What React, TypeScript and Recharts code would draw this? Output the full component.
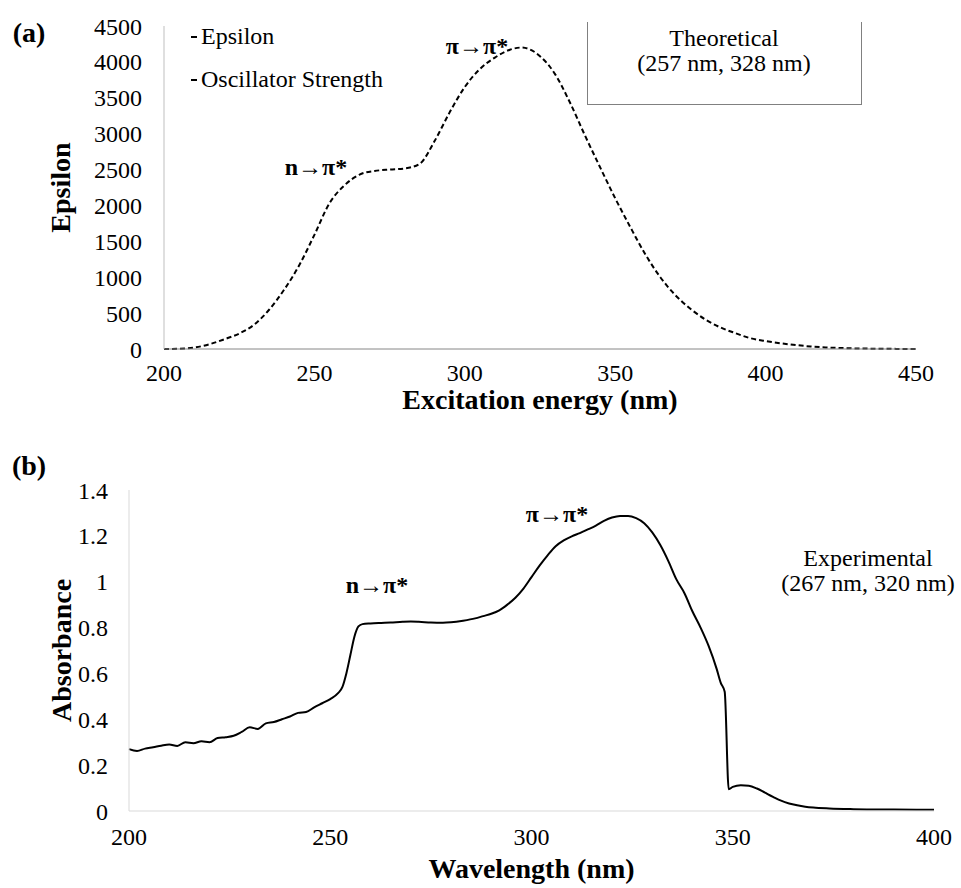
import { LineChart, Line, XAxis, YAxis, Legend } from 'recharts'

// (a) theoretical spectrum, epsilon vs excitation wavelength
const wavelengthsA = [
  200, 205, 210, 215, 220, 225, 230, 235, 240, 245, 250, 255, 260, 265, 270, 275, 280, 285, 290, 295, 300,
  305, 310, 315, 319, 320, 325, 330, 335, 340, 345, 350, 355, 360, 365, 370, 375, 380, 385, 390, 395, 400,
  405, 410, 415, 420, 425, 430, 435, 440, 445, 450,
]
const epsilon = [
  0, 4, 20, 65, 135, 215, 340, 550, 830, 1170, 1590, 2030, 2280, 2430, 2480, 2500, 2515, 2580, 2900, 3300, 3650,
  3900, 4060, 4170, 4200, 4195, 4080, 3830, 3430, 2970, 2530, 2100, 1700, 1320, 1000, 750, 560, 410, 300, 220, 150, 110,
  80, 55, 35, 22, 14, 8, 5, 3, 1, 0,
]
const xTicksA = [200, 250, 300, 350, 400, 450]
const yTicksA = [0, 500, 1000, 1500, 2000, 2500, 3000, 3500, 4000, 4500]
const legendItems = ['Epsilon', 'Oscillator Strength']

// (b) experimental spectrum, absorbance vs wavelength
const wavelengthsB = [
  200, 202, 204, 206, 208, 210, 212, 214, 216, 218, 220, 222, 224, 226, 228, 230, 232, 234, 236, 238, 240,
  242, 244, 246, 248, 250, 252, 253, 254, 255, 256, 257, 258, 260, 262, 265, 268, 270, 272, 275, 278, 280,
  283, 286, 288, 290, 292, 294, 296, 298, 300, 302, 304, 306, 308, 310, 312, 314, 316, 318, 320, 322, 324,
  326, 328, 330, 332, 334, 336, 338, 340, 342, 344, 346, 347, 348, 349, 350, 352, 354, 356, 358, 360, 362,
  364, 366, 368, 370, 374, 380, 390, 400,
]
const absorbance = [
  0.27, 0.262, 0.272, 0.278, 0.285, 0.29, 0.284, 0.3, 0.296, 0.304, 0.3, 0.318, 0.322, 0.328, 0.345, 0.365, 0.358, 0.382, 0.388, 0.4, 0.412,
  0.428, 0.432, 0.452, 0.47, 0.488, 0.515, 0.54, 0.6, 0.68, 0.76, 0.805, 0.815, 0.818, 0.82, 0.822, 0.825, 0.826, 0.825, 0.822, 0.821, 0.823,
  0.83, 0.84, 0.85, 0.86, 0.875, 0.9, 0.93, 0.97, 1.02, 1.07, 1.115, 1.155, 1.18, 1.198, 1.212, 1.228, 1.245, 1.265, 1.28, 1.287, 1.287,
  1.277, 1.255, 1.215, 1.16, 1.09, 1.01, 0.95, 0.87, 0.8, 0.72, 0.62, 0.56, 0.52, 0.095, 0.105, 0.112, 0.11, 0.098, 0.08, 0.062, 0.045,
  0.033, 0.025, 0.019, 0.015, 0.011, 0.008, 0.006, 0.005,
]
const xTicksB = [200, 250, 300, 350, 400]
const yTicksB = [0, 0.2, 0.4, 0.6, 0.8, 1, 1.2, 1.4]

const dataA = wavelengthsA.map((nm, i) => ({ nm, eps: epsilon[i] }))
const dataB = wavelengthsB.map((nm, i) => ({ nm, abs: absorbance[i] }))

const FONT = '"Liberation Serif", "Times New Roman", serif'
const tick = { fill: '#000', fontSize: 24, fontFamily: FONT }
const titleStyle = { fill: '#000', fontSize: 28, fontWeight: 700, fontFamily: FONT }

function Note({ x, y, bold, children }: { x: number; y: number; bold?: boolean; children: React.ReactNode }) {
  return (
    <div
      style={{
        position: 'absolute',
        left: x,
        top: y,
        transform: 'translate(-50%, -50%)',
        whiteSpace: 'nowrap',
        fontFamily: FONT,
        fontSize: 24,
        fontWeight: bold ? 700 : 400,
        lineHeight: 1.05,
        textAlign: 'center',
        color: '#000',
      }}
    >
      {children}
    </div>
  )
}

function LegendList() {
  return (
    <div style={{ fontFamily: FONT, fontSize: 24, color: '#000' }}>
      {legendItems.map((name) => (
        <div key={name} style={{ display: 'flex', alignItems: 'center', height: 43 }}>
          <span style={{ display: 'inline-block', width: 6, height: 2, background: '#000', marginRight: 4 }} />
          {name}
        </div>
      ))}
    </div>
  )
}

export default function App() {
  return (
    <div style={{ position: 'absolute', left: 0, top: 0, width: 961, height: 888, background: '#fff' }}>
      <div style={{ position: 'absolute', left: 0, top: 0 }}>
        <LineChart width={961} height={430} data={dataA} margin={{ top: 26, right: 45, left: 54, bottom: 21 }}>
          <XAxis
            dataKey="nm"
            type="number"
            domain={[200, 450]}
            ticks={xTicksA}
            tickLine={false}
            tickMargin={9}
            tick={tick}
            stroke="#868686"
            height={60}
            label={{ value: 'Excitation energy (nm)', position: 'insideBottom', offset: 0, style: titleStyle }}
          />
          <YAxis
            type="number"
            domain={[0, 4500]}
            ticks={yTicksA}
            tickLine={false}
            tickMargin={16}
            tick={tick}
            stroke="#bfbfbf"
            width={110}
            label={{
              value: 'Epsilon',
              angle: -90,
              position: 'insideLeft',
              offset: 6,
              style: { ...titleStyle, textAnchor: 'middle' },
            }}
          />
          <Legend
            layout="vertical"
            align="center"
            verticalAlign="middle"
            content={() => <LegendList />}
            wrapperStyle={{ left: 191, top: 15, width: 260 }}
          />
          <Line
            dataKey="eps"
            type="monotone"
            stroke="#000"
            strokeWidth={2}
            strokeDasharray="5 3"
            dot={false}
            isAnimationActive={false}
          />
        </LineChart>
      </div>

      <div style={{ position: 'absolute', left: 0, top: 430 }}>
        <LineChart width={961} height={458} data={dataB} margin={{ top: 60, right: 27, left: 54, bottom: 7 }}>
          <XAxis
            dataKey="nm"
            type="number"
            domain={[200, 400]}
            ticks={xTicksB}
            tickLine={false}
            tickMargin={11}
            tick={tick}
            stroke="#d9d9d9"
            height={70}
            label={{ value: 'Wavelength (nm)', position: 'insideBottom', offset: 3, style: titleStyle }}
          />
          <YAxis
            type="number"
            domain={[0, 1.4]}
            ticks={yTicksB}
            tickLine={false}
            tickMargin={15}
            tick={tick}
            stroke="#d9d9d9"
            width={75}
            label={{
              value: 'Absorbance',
              angle: -90,
              position: 'insideLeft',
              offset: 7,
              style: { ...titleStyle, textAnchor: 'middle' },
            }}
          />
          <Line
            dataKey="abs"
            type="monotone"
            stroke="#000"
            strokeWidth={2}
            dot={false}
            isAnimationActive={false}
          />
        </LineChart>
      </div>

      <Note x={29} y={33} bold>
        <span style={{ fontSize: 28 }}>(a)</span>
      </Note>
      <Note x={29} y={466} bold>
        <span style={{ fontSize: 28 }}>(b)</span>
      </Note>

      <Note x={477} y={47} bold>π→π*</Note>
      <Note x={316} y={168} bold>n→π*</Note>
      <div
        style={{
          position: 'absolute',
          left: 587,
          top: 22,
          width: 273,
          height: 82,
          borderLeft: '1px solid #808080',
          borderRight: '1px solid #808080',
          borderBottom: '1px solid #808080',
        }}
      />
      <Note x={724} y={51}>
        Theoretical
        <br />
        (257 nm, 328 nm)
      </Note>

      <Note x={557} y={515} bold>π→π*</Note>
      <Note x={377} y={586} bold>n→π*</Note>
      <Note x={868} y={571}>
        Experimental
        <br />
        (267 nm, 320 nm)
      </Note>
    </div>
  )
}
